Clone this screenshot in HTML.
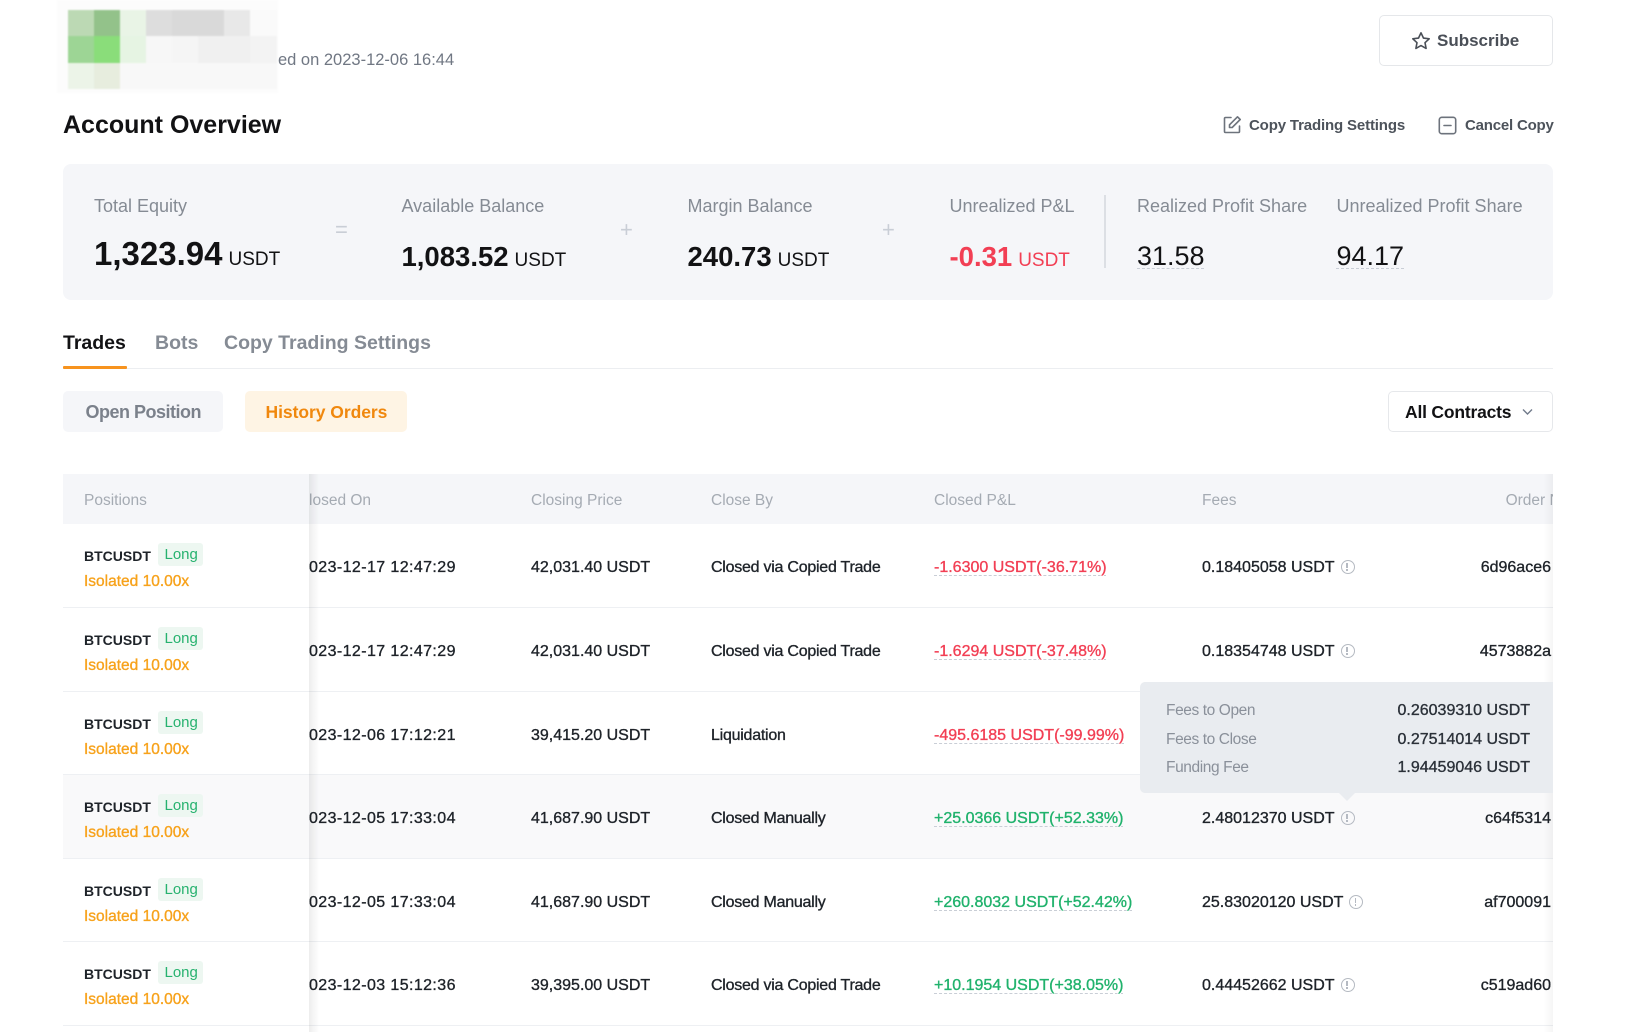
<!DOCTYPE html>
<html><head><meta charset="utf-8">
<style>
*{margin:0;padding:0;box-sizing:border-box}
html,body{width:1626px;height:1032px;overflow:hidden;background:#fff}
body{font-family:"Liberation Sans",Arial,sans-serif;color:#121214;position:relative}
.a{position:absolute;white-space:nowrap}
.m{-webkit-text-stroke:0.35px currentColor}
.cell{position:absolute}
.lbl{position:absolute;white-space:nowrap;font-size:18px;color:#858b94;line-height:24px;top:194px}
.sep{position:absolute;font-size:22px;color:#c9ced6;line-height:24px;top:218px}
.th{position:absolute;white-space:nowrap;font-size:15.5px;color:#a5abb3;line-height:50px;top:2px}
.row{position:absolute;left:0;width:1490px;border-bottom:1px solid #eef0f3}
.row .t{position:absolute;white-space:nowrap;font-size:16px;color:#1e2329;-webkit-text-stroke:0.35px currentColor;line-height:24px}
.sym{position:absolute;left:21px;font-size:14px;font-weight:bold;color:#1e2329;line-height:20px;white-space:nowrap}
.tag{position:absolute;left:95px;width:45px;height:23px;background:#edf7f1;border-radius:3px;color:#27b26f;font-size:15px;line-height:23px;padding-left:6.5px}
.iso{position:absolute;left:21px;font-size:15.5px;color:#f7a21b;line-height:20px;white-space:nowrap;-webkit-text-stroke:0.35px currentColor}
.clip{position:absolute;left:246px;width:215px;overflow:hidden;height:24px;letter-spacing:0.4px}
.clip span{position:relative;left:-9.3px}
.red{color:#f23f54 !important}
.grn{color:#20b26c !important}
.ul{text-decoration:underline dashed;text-decoration-color:#c9ced6;text-underline-offset:3px;text-decoration-thickness:1px}
.ic{display:inline-block;width:14px;height:14px;border:1.3px solid #b5bac2;border-radius:50%;vertical-align:-2px;margin-left:6px;position:relative;-webkit-text-stroke:0}
.ic:before{content:"";position:absolute;left:4.5px;top:2.2px;width:1.5px;height:5px;background:#b5bac2}
.ic:after{content:"";position:absolute;left:4.5px;top:8.3px;width:1.5px;height:1.5px;background:#b5bac2}
.cb{letter-spacing:-0.25px}
</style></head><body>

<!-- blurred avatar -->
<div class="a" style="left:57px;top:0;width:221px;height:93px;background:#fcfcfc;filter:blur(0.8px)">
</div>
<div class="a" style="left:0;top:0;width:300px;height:100px;filter:blur(0.8px)">
<div class="cell" style="left:68px;top:10px;width:26px;height:26px;background:#bcd9b4"></div>
<div class="cell" style="left:94px;top:10px;width:26px;height:26px;background:#93c28a"></div>
<div class="cell" style="left:120px;top:10px;width:26px;height:26px;background:#e9f4e6"></div>
<div class="cell" style="left:146px;top:10px;width:26px;height:26px;background:#dddddd"></div>
<div class="cell" style="left:172px;top:10px;width:26px;height:26px;background:#d9d9d9"></div>
<div class="cell" style="left:198px;top:10px;width:26px;height:26px;background:#d9d9d9"></div>
<div class="cell" style="left:224px;top:10px;width:26px;height:26px;background:#e8e8e8"></div>
<div class="cell" style="left:250px;top:10px;width:27px;height:26px;background:#fafafa"></div>
<div class="cell" style="left:68px;top:36px;width:26px;height:27px;background:#9dd595"></div>
<div class="cell" style="left:94px;top:36px;width:26px;height:27px;background:#8add7a"></div>
<div class="cell" style="left:120px;top:36px;width:26px;height:27px;background:#e6f4e3"></div>
<div class="cell" style="left:146px;top:36px;width:26px;height:27px;background:#f7f7f7"></div>
<div class="cell" style="left:172px;top:36px;width:26px;height:27px;background:#f5f5f5"></div>
<div class="cell" style="left:198px;top:36px;width:26px;height:27px;background:#f0f0f0"></div>
<div class="cell" style="left:224px;top:36px;width:26px;height:27px;background:#f0f0f0"></div>
<div class="cell" style="left:250px;top:36px;width:27px;height:27px;background:#f3f3f3"></div>
<div class="cell" style="left:68px;top:63px;width:26px;height:26px;background:#ecf4e8"></div>
<div class="cell" style="left:94px;top:63px;width:26px;height:26px;background:#e7edde"></div>
<div class="cell" style="left:120px;top:63px;width:157px;height:26px;background:#f8f8f8"></div>
</div>
<div class="a" style="left:278px;top:50px;font-size:16.5px;line-height:20px;color:#707783">ed on 2023-12-06 16:44</div>

<div class="a" style="left:63px;top:110px;font-size:25px;font-weight:bold;line-height:30px;color:#121214">Account Overview</div>

<!-- Subscribe -->
<div class="a" style="left:1379px;top:15px;width:174px;height:51px;border:1px solid #e5e7ea;border-radius:5px"></div>
<svg class="a" style="left:1411px;top:31px" width="20" height="20" viewBox="0 0 20 20"><path d="M10 1.8l2.5 5.3 5.7.7-4.2 3.9 1.1 5.7L10 14.6l-5.1 2.8 1.1-5.7L1.8 7.8l5.7-.7z" fill="none" stroke="#4a4f57" stroke-width="1.6" stroke-linejoin="round"/></svg>
<div class="a" style="left:1437px;top:30px;font-size:17px;font-weight:bold;line-height:22px;color:#4a4f57">Subscribe</div>

<!-- Copy trading settings / cancel copy -->
<svg class="a" style="left:1222px;top:115px" width="20" height="20" viewBox="0 0 20 20"><path d="M9 2.5H3.5a1 1 0 0 0-1 1v13a1 1 0 0 0 1 1h13a1 1 0 0 0 1-1V11" fill="none" stroke="#6d737c" stroke-width="1.6" stroke-linecap="round"/><path d="M15.5 1.8l2.7 2.7-8 8H7.5V9.8z" fill="none" stroke="#6d737c" stroke-width="1.6" stroke-linejoin="round"/></svg>
<div class="a" style="left:1249px;top:115px;font-size:15px;font-weight:bold;line-height:22px;letter-spacing:-0.15px;color:#4d535b">Copy Trading Settings</div>
<svg class="a" style="left:1438px;top:116px" width="19" height="19" viewBox="0 0 19 19"><rect x="1.3" y="1.3" width="16.4" height="16.4" rx="2.5" fill="none" stroke="#6d737c" stroke-width="1.6"/><path d="M6 9.5h7" stroke="#6d737c" stroke-width="1.6" stroke-linecap="round"/></svg>
<div class="a" style="left:1465px;top:115px;font-size:15px;font-weight:bold;line-height:22px;letter-spacing:-0.2px;color:#4d535b">Cancel Copy</div>

<!-- overview card -->
<div class="a" style="left:63px;top:164px;width:1490px;height:136px;background:#f5f6f9;border-radius:8px"></div>
<div class="lbl" style="left:94px">Total Equity</div>
<div class="lbl" style="left:401.5px">Available Balance</div>
<div class="lbl" style="left:687.5px">Margin Balance</div>
<div class="lbl" style="left:949.5px">Unrealized P&amp;L</div>
<div class="lbl" style="left:1137px">Realized Profit Share</div>
<div class="lbl" style="left:1336.5px">Unrealized Profit Share</div>
<div class="sep" style="left:335px">=</div>
<div class="sep" style="left:620px">+</div>
<div class="sep" style="left:882px">+</div>
<div class="a" style="left:1104px;top:195px;width:1.5px;height:73px;background:#dcdfe4"></div>

<div class="a" style="left:94px;top:234px;font-size:33px;font-weight:bold;line-height:40px;color:#121214">1,323.94<span style="font-size:19px;font-weight:normal;margin-left:6px">USDT</span></div>
<div class="a" style="left:401.5px;top:237px;font-size:27.5px;font-weight:bold;line-height:40px;color:#121214">1,083.52<span style="font-size:19px;font-weight:normal;margin-left:6px">USDT</span></div>
<div class="a" style="left:687.5px;top:237px;font-size:27.5px;font-weight:bold;line-height:40px;color:#121214">240.73<span style="font-size:19px;font-weight:normal;margin-left:6px">USDT</span></div>
<div class="a" style="left:949.5px;top:237px;font-size:27.5px;font-weight:bold;line-height:40px;color:#f23f54">-0.31<span style="font-size:19px;font-weight:normal;margin-left:6px">USDT</span></div>
<div class="a ul" style="left:1137px;top:236px;font-size:27px;line-height:40px;color:#121214">31.58</div>
<div class="a ul" style="left:1336.5px;top:236px;font-size:27px;line-height:40px;color:#121214">94.17</div>

<!-- tabs -->
<div class="a" style="left:63px;top:331px;font-size:19.5px;font-weight:bold;line-height:24px;color:#121214">Trades</div>
<div class="a" style="left:155px;top:331px;font-size:19.5px;font-weight:bold;line-height:24px;color:#858b94">Bots</div>
<div class="a" style="left:224px;top:331px;font-size:19.5px;font-weight:bold;line-height:24px;color:#858b94">Copy Trading Settings</div>
<div class="a" style="left:63px;top:368px;width:1490px;height:1px;background:#eceef1"></div>
<div class="a" style="left:63px;top:366px;width:64px;height:3px;background:#f7931e;border-radius:1px"></div>

<!-- sub buttons -->
<div class="a" style="left:63px;top:391px;width:160px;height:41px;background:#f5f6f9;border-radius:5px"></div>
<div class="a" style="left:85.5px;top:400px;font-size:18px;font-weight:bold;line-height:24px;letter-spacing:-0.5px;color:#7b818b">Open Position</div>
<div class="a" style="left:244.5px;top:391px;width:162px;height:41px;background:#fef4e4;border-radius:5px"></div>
<div class="a" style="left:265.5px;top:400px;font-size:17.5px;font-weight:bold;line-height:24px;letter-spacing:-0.05px;color:#f0880e">History Orders</div>
<div class="a" style="left:1388px;top:391px;width:165px;height:41px;border:1px solid #e6e8eb;border-radius:5px"></div>
<div class="a" style="left:1405px;top:400px;font-size:17.5px;font-weight:bold;line-height:24px;letter-spacing:-0.2px;color:#121214">All Contracts</div>
<svg class="a" style="left:1522px;top:408px" width="11" height="8" viewBox="0 0 11 8"><path d="M1 1.5l4.5 4.5L10 1.5" fill="none" stroke="#707a8a" stroke-width="1.4"/></svg>

<!-- table -->
<div class="a" style="left:63px;top:474px;width:1490px;height:558px;overflow:hidden">
  <div class="a" style="left:0;top:0;width:1490px;height:50px;background:#f5f6f9"></div>
  <div class="th" style="left:21px">Positions</div>
  <div class="th" style="left:246px;width:215px;overflow:hidden"><span style="position:relative;left:-11.2px">Closed On</span></div>
  <div class="th" style="left:468px">Closing Price</div>
  <div class="th" style="left:648px">Close By</div>
  <div class="th" style="left:871px">Closed P&amp;L</div>
  <div class="th" style="left:1139px">Fees</div>
  <div class="th" style="left:1442.6px">Order No.</div>

  <!-- row 1 -->
  <div class="row" style="top:50px;height:84px">
    <div class="sym" style="top:22px">BTCUSDT</div>
    <div class="tag" style="top:19px">Long</div>
    <div class="iso" style="top:48px">Isolated 10.00x</div>
    <div class="clip t" style="top:32px"><span>2023-12-17 12:47:29</span></div>
    <div class="t" style="left:468px;top:32px">42,031.40 USDT</div>
    <div class="t cb" style="left:648px;top:32px">Closed via Copied Trade</div>
    <div class="t red ul" style="left:871px;top:32px">-1.6300 USDT(-36.71%)</div>
    <div class="t" style="left:1139px;top:32px">0.18405058 USDT<span class="ic"></span></div>
    <div class="t" style="right:2px;top:32px">6d96ace6</div>
  </div>
  <!-- row 2 -->
  <div class="row" style="top:134px;height:84px">
    <div class="sym" style="top:22px">BTCUSDT</div>
    <div class="tag" style="top:19px">Long</div>
    <div class="iso" style="top:48px">Isolated 10.00x</div>
    <div class="clip t" style="top:32px"><span>2023-12-17 12:47:29</span></div>
    <div class="t" style="left:468px;top:32px">42,031.40 USDT</div>
    <div class="t cb" style="left:648px;top:32px">Closed via Copied Trade</div>
    <div class="t red ul" style="left:871px;top:32px">-1.6294 USDT(-37.48%)</div>
    <div class="t" style="left:1139px;top:32px">0.18354748 USDT<span class="ic"></span></div>
    <div class="t" style="right:2px;top:32px">4573882a</div>
  </div>
  <!-- row 3 -->
  <div class="row" style="top:218px;height:83px">
    <div class="sym" style="top:22px">BTCUSDT</div>
    <div class="tag" style="top:19px">Long</div>
    <div class="iso" style="top:48px">Isolated 10.00x</div>
    <div class="clip t" style="top:32px"><span>2023-12-06 17:12:21</span></div>
    <div class="t" style="left:468px;top:32px">39,415.20 USDT</div>
    <div class="t cb" style="left:648px;top:32px">Liquidation</div>
    <div class="t red ul" style="left:871px;top:32px">-495.6185 USDT(-99.99%)</div>
  </div>
  <!-- row 4 (hover) -->
  <div class="row" style="top:301px;height:84px;background:#f9f9fa">
    <div class="sym" style="top:22px">BTCUSDT</div>
    <div class="tag" style="top:19px">Long</div>
    <div class="iso" style="top:48px">Isolated 10.00x</div>
    <div class="clip t" style="top:32px"><span>2023-12-05 17:33:04</span></div>
    <div class="t" style="left:468px;top:32px">41,687.90 USDT</div>
    <div class="t cb" style="left:648px;top:32px">Closed Manually</div>
    <div class="t grn ul" style="left:871px;top:32px">+25.0366 USDT(+52.33%)</div>
    <div class="t" style="left:1139px;top:32px">2.48012370 USDT<span class="ic"></span></div>
    <div class="t" style="right:2px;top:32px">c64f5314</div>
  </div>
  <!-- row 5 -->
  <div class="row" style="top:385px;height:83px">
    <div class="sym" style="top:22px">BTCUSDT</div>
    <div class="tag" style="top:19px">Long</div>
    <div class="iso" style="top:48px">Isolated 10.00x</div>
    <div class="clip t" style="top:32px"><span>2023-12-05 17:33:04</span></div>
    <div class="t" style="left:468px;top:32px">41,687.90 USDT</div>
    <div class="t cb" style="left:648px;top:32px">Closed Manually</div>
    <div class="t grn ul" style="left:871px;top:32px">+260.8032 USDT(+52.42%)</div>
    <div class="t" style="left:1139px;top:32px">25.83020120 USDT<span class="ic"></span></div>
    <div class="t" style="right:2px;top:32px">af700091</div>
  </div>
  <!-- row 6 -->
  <div class="row" style="top:468px;height:84px">
    <div class="sym" style="top:22px">BTCUSDT</div>
    <div class="tag" style="top:19px">Long</div>
    <div class="iso" style="top:48px">Isolated 10.00x</div>
    <div class="clip t" style="top:32px"><span>2023-12-03 15:12:36</span></div>
    <div class="t" style="left:468px;top:32px">39,395.00 USDT</div>
    <div class="t cb" style="left:648px;top:32px">Closed via Copied Trade</div>
    <div class="t grn ul" style="left:871px;top:32px">+10.1954 USDT(+38.05%)</div>
    <div class="t" style="left:1139px;top:32px">0.44452662 USDT<span class="ic"></span></div>
    <div class="t" style="right:2px;top:32px">c519ad60</div>
  </div>

  <!-- sticky column shadow -->
  <div class="a" style="left:246px;top:0;width:10px;height:558px;background:linear-gradient(to right,rgba(0,0,0,0.07),rgba(0,0,0,0))"></div>
  <!-- right shadow -->
  <div class="a" style="left:1480px;top:0;width:10px;height:558px;background:linear-gradient(to left,rgba(0,0,0,0.04),rgba(0,0,0,0))"></div>

  <!-- tooltip -->
  <div class="a" style="left:1077px;top:208px;width:413px;height:111px;background:#e9ecf0;border-radius:5px 0 0 5px"></div>
  <div class="a" style="left:1276px;top:319px;width:0;height:0;border-left:8px solid transparent;border-right:8px solid transparent;border-top:8px solid #e9ecf0"></div>
  <div class="a" style="left:1103px;top:227px;font-size:15.5px;line-height:20px;letter-spacing:-0.4px;color:#8a909a">Fees to Open</div>
  <div class="a" style="left:1103px;top:256px;font-size:15.5px;line-height:20px;letter-spacing:-0.4px;color:#8a909a">Fees to Close</div>
  <div class="a" style="left:1103px;top:284px;font-size:15.5px;line-height:20px;letter-spacing:-0.4px;color:#8a909a">Funding Fee</div>
  <div class="a m" style="left:1334.5px;top:227px;font-size:16px;line-height:20px;color:#2b3139">0.26039310 USDT</div>
  <div class="a m" style="left:1334.5px;top:256px;font-size:16px;line-height:20px;color:#2b3139">0.27514014 USDT</div>
  <div class="a m" style="left:1334.5px;top:284px;font-size:16px;line-height:20px;color:#2b3139">1.94459046 USDT</div>
</div>

</body></html>
